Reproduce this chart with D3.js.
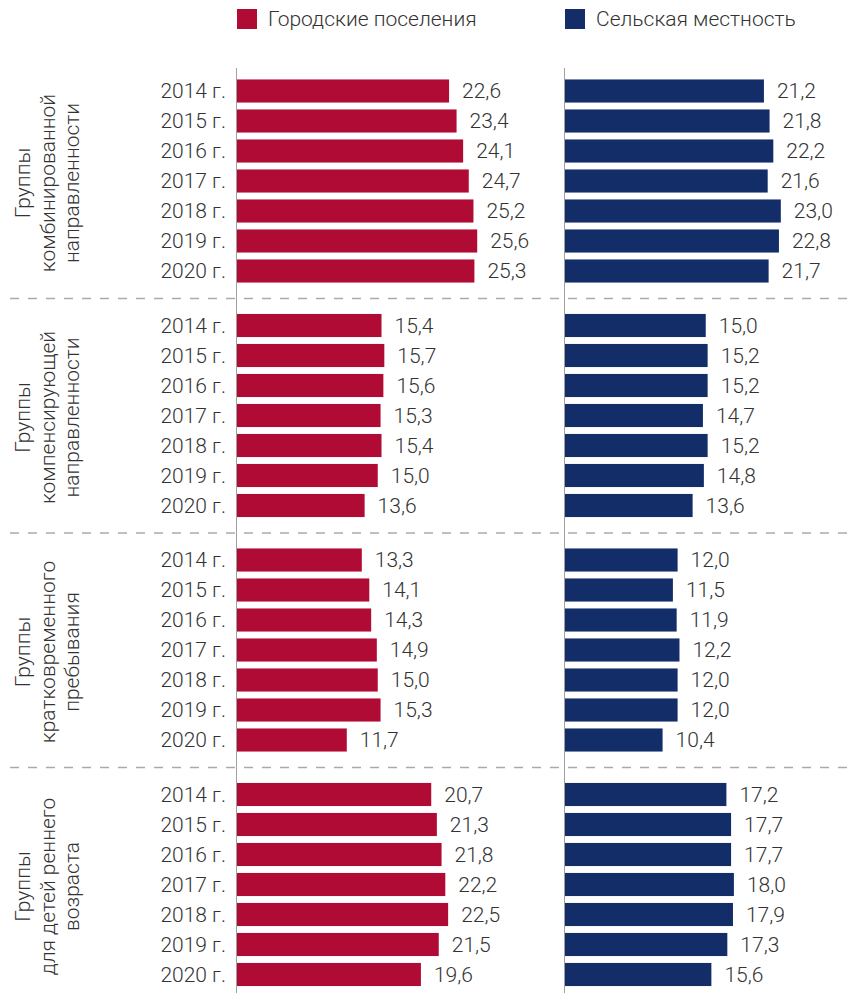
<!DOCTYPE html>
<html>
<head>
<meta charset="utf-8">
<script src="https://cdn.jsdelivr.net/npm/d3@7"></script>
<style>
  body { margin: 0; background: #fff; }
  text { font-family: Roboto, "Liberation Sans", sans-serif; font-weight: 300; fill: #333; }
</style>
</head>
<body>
<div class="chart"></div>
<script>
// DATA ------------------------------------

const years = ["2014 г.", "2015 г.", "2016 г.", "2017 г.", "2018 г.", "2019 г.", "2020 г."];

const groupLabels = [
    ["Группы", "комбинированной", "направленности"],
    ["Группы", "компенсирующей", "направленности"],
    ["Группы", "кратковременного", "пребывания"],
    ["Группы", "для детей реннего", "возраста"]
];

const seriesNames = ["Городские поселения", "Сельская местность"];

const urbanCombined     = [22.6, 23.4, 24.1, 24.7, 25.2, 25.6, 25.3];
const urbanCompensating = [15.4, 15.7, 15.6, 15.3, 15.4, 15.0, 13.6];
const urbanShortStay    = [13.3, 14.1, 14.3, 14.9, 15.0, 15.3, 11.7];
const urbanEarlyAge     = [20.7, 21.3, 21.8, 22.2, 22.5, 21.5, 19.6];

const ruralCombined     = [21.2, 21.8, 22.2, 21.6, 23.0, 22.8, 21.7];
const ruralCompensating = [15.0, 15.2, 15.2, 14.7, 15.2, 14.8, 13.6];
const ruralShortStay    = [12.0, 11.5, 11.9, 12.2, 12.0, 12.0, 10.4];
const ruralEarlyAge     = [17.2, 17.7, 17.7, 18.0, 17.9, 17.3, 15.6];

const urban = [urbanCombined, urbanCompensating, urbanShortStay, urbanEarlyAge];
const rural = [ruralCombined, ruralCompensating, ruralShortStay, ruralEarlyAge];

// CHART INIT ------------------------------

const W = 853, H = 993;
const colors = ["#b00b35", "#132d68"];
const colX = [237, 565];   // left edge of each bar column

const svg = d3.select(".chart").append("svg")
    .attr("width", W)
    .attr("height", H);

const groupScale = d3.scaleBand()
    .domain(d3.range(groupLabels.length))
    .range([76, 76 + 234.5 * groupLabels.length])
    .padding(0);

const yScale = d3.scaleBand()
    .domain(years)
    .range([0, 210])
    .paddingInner(0.23)
    .paddingOuter(0.115);

const xScale = d3.scaleLinear()
    .domain([0, 30])
    .range([0, 281.5]);

const fmt = v => d3.format(".1f")(v).replace(".", ",");

// legend
const legend = svg.append("g");
seriesNames.forEach((name, k) => {
    legend.append("rect")
        .attr("x", colX[k])
        .attr("y", 9)
        .attr("width", 20)
        .attr("height", 20)
        .attr("fill", colors[k]);
    legend.append("text")
        .attr("x", colX[k] + 31)
        .attr("y", 19)
        .attr("dy", "0.35em")
        .style("font-size", "21px")
        .text(name);
});

// vertical axis lines
colX.forEach(x0 => {
    svg.append("line")
        .attr("x1", x0 - 0.5).attr("x2", x0 - 0.5)
        .attr("y1", 68).attr("y2", H)
        .attr("stroke", "#a0a0a0")
        .attr("stroke-width", 1);
});

// dashed separators
d3.range(groupLabels.length - 1).forEach(g => {
    const y = groupScale(g) + 222.5;
    svg.append("line")
        .attr("x1", 10).attr("x2", W)
        .attr("y1", y).attr("y2", y)
        .attr("stroke", "#aaa")
        .attr("stroke-width", 1.3)
        .attr("stroke-dasharray", "9,9");
});

// groups
groupLabels.forEach((lines, g) => {
    const gy = groupScale(g);
    const grp = svg.append("g").attr("transform", "translate(0," + gy + ")");

    const cy = yScale(years[0]) + (yScale(years[6]) + yScale.bandwidth() - yScale(years[0])) / 2;
    lines.forEach((ln, i) => {
        grp.append("text")
            .attr("transform", "translate(" + (30 + i * 24.5) + "," + (cy + 2) + ") rotate(-90)")
            .attr("text-anchor", "middle")
            .style("font-size", "21px")
            .text(ln);
    });

    grp.selectAll(".year")
        .data(years)
        .enter().append("text")
        .attr("class", "year")
        .attr("x", 226)
        .attr("y", d => yScale(d) + yScale.bandwidth() / 2)
        .attr("dy", "0.35em")
        .attr("text-anchor", "end")
        .style("font-size", "21px")
        .text(d => d);

    [urban[g], rural[g]].forEach((vals, k) => {
        grp.selectAll(".bar" + k)
            .data(vals)
            .enter().append("rect")
            .attr("class", "bar" + k)
            .attr("x", colX[k])
            .attr("y", (d, i) => yScale(years[i]))
            .attr("width", d => xScale(d))
            .attr("height", yScale.bandwidth())
            .attr("fill", colors[k]);

        grp.selectAll(".val" + k)
            .data(vals)
            .enter().append("text")
            .attr("class", "val" + k)
            .attr("x", d => colX[k] + xScale(d) + 13)
            .attr("y", (d, i) => yScale(years[i]) + yScale.bandwidth() / 2)
            .attr("dy", "0.35em")
            .style("font-size", "21px")
            .text(fmt);
    });
});
</script>
</body>
</html>
